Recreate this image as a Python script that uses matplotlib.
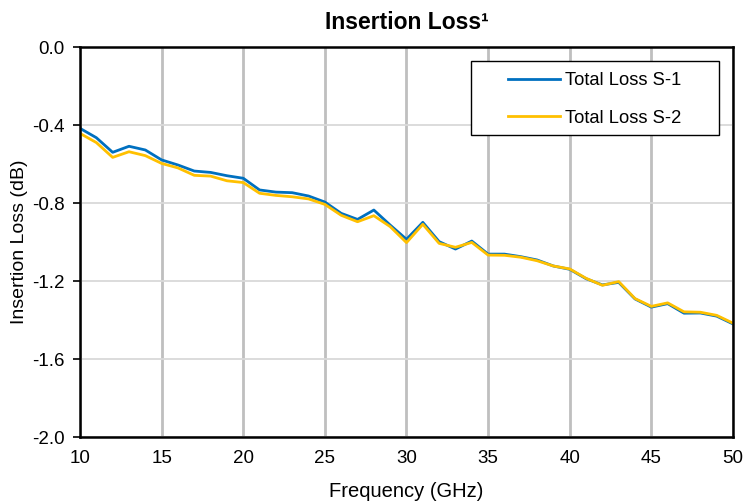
import matplotlib.pyplot as plt
from matplotlib.patches import Rectangle

plt.rcParams['font.family'] = ['Liberation Sans', 'DejaVu Sans']

freq = list(range(10, 51))
loss_s1 = [-0.417, -0.465, -0.540, -0.509, -0.528, -0.579, -0.605, -0.636, -0.643, -0.660,
           -0.673, -0.733, -0.744, -0.747, -0.764, -0.795, -0.853, -0.884, -0.836, -0.913,
           -0.986, -0.899, -0.998, -1.036, -0.995, -1.062, -1.062, -1.075, -1.092, -1.123,
           -1.140, -1.188, -1.220, -1.207, -1.292, -1.334, -1.316, -1.365, -1.364, -1.380,
           -1.420]
loss_s2 = [-0.443, -0.490, -0.566, -0.537, -0.557, -0.597, -0.620, -0.658, -0.662, -0.686,
           -0.695, -0.750, -0.761, -0.768, -0.779, -0.807, -0.863, -0.896, -0.865, -0.921,
           -1.003, -0.909, -1.007, -1.027, -1.002, -1.067, -1.068, -1.078, -1.096, -1.123,
           -1.138, -1.186, -1.222, -1.203, -1.290, -1.330, -1.312, -1.358, -1.360, -1.376,
           -1.416]

fig = plt.figure(figsize=(7.43, 5.04), dpi=100)
ax = fig.add_axes([0.1077, 0.1329, 0.8788, 0.7738])

ax.plot(freq, loss_s1, color='#0070C0', lw=2.0, label='Total Loss S-1', zorder=3)
ax.plot(freq, loss_s2, color='#FFC000', lw=2.0, label='Total Loss S-2', zorder=3)

ax.set_xlim(10, 50)
ax.set_ylim(-2.0, 0.0)
ax.set_xticks(range(10, 51, 5))
ax.set_yticks([-2.0, -1.6, -1.2, -0.8, -0.4, 0.0])
ax.set_yticklabels(['-2.0', '-1.6', '-1.2', '-0.8', '-0.4', '0.0'])

# vertical grid heavier than the horizontal one
ax.xaxis.grid(True, color='#BFBFBF', lw=2.0, zorder=1)
ax.yaxis.grid(True, color='#D9D9D9', lw=1.3, zorder=1)
ax.set_axisbelow(True)

for s in ax.spines.values():
    s.set_color('black')
    s.set_linewidth(1.8)
    s.set_zorder(4)

ax.tick_params(axis='x', length=0, pad=9, labelsize=13.5)
ax.tick_params(axis='y', length=5, width=1.2, direction='out', pad=6, labelsize=13.5)

ax.set_xlabel('Frequency (GHz)', fontsize=14.5, labelpad=11)
ax.set_ylabel('Insertion Loss (dB)', fontsize=14, labelpad=3)
ax.set_title('Insertion Loss\u00b9', fontsize=16.5, fontweight='bold', pad=13)

# legend box
ax.add_patch(Rectangle((0.5988, 0.7744), 0.3798, 0.1897, transform=ax.transAxes,
                       facecolor='white', edgecolor='black', lw=1.0, zorder=5))
leg = ax.legend(loc='center', bbox_to_anchor=(0.7887, 0.8655), frameon=False,
                fontsize=13.2, handlelength=2.8, handletextpad=0.3, labelspacing=1.12)
leg.set_zorder(6)

fig.savefig('out.png', dpi=100)
